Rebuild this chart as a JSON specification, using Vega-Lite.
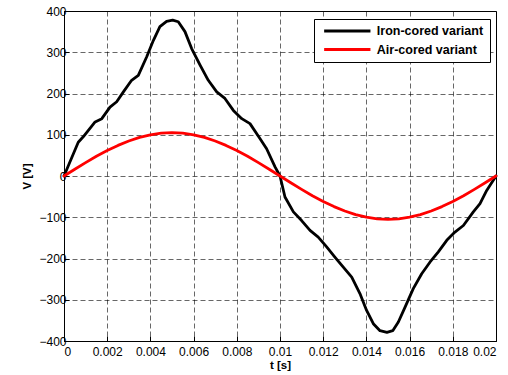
{
  "$schema": "https://vega.github.io/schema/vega-lite/v6.json",
  "width": 432,
  "height": 330,
  "autosize": {"type": "none"},
  "padding": {"left": 64, "top": 11, "right": 12, "bottom": 34},
  "background": "white",
  "config": {
    "font": "Liberation Sans",
    "view": {"stroke": "#000", "strokeWidth": 1},
    "axis": {
      "domainColor": "#000",
      "tickColor": "#000",
      "tickSize": -5,
      "labelColor": "#000",
      "labelFont": "Liberation Sans",
      "labelFontSize": 12,
      "titleFont": "Liberation Sans",
      "titleFontSize": 11.5,
      "titleFontWeight": "bold",
      "titleColor": "#000",
      "grid": true,
      "gridColor": "#000",
      "gridOpacity": 0.75,
      "gridDash": [5, 3],
      "gridWidth": 0.8
    }
  },
  "data": {
    "values": [
      {"t": 0, "v": 0, "s": "Iron-cored variant"},
      {"t": 0.00066, "v": 82, "s": "Iron-cored variant"},
      {"t": 0.00089, "v": 95, "s": "Iron-cored variant"},
      {"t": 0.00144, "v": 131, "s": "Iron-cored variant"},
      {"t": 0.00175, "v": 139, "s": "Iron-cored variant"},
      {"t": 0.00213, "v": 167, "s": "Iron-cored variant"},
      {"t": 0.00244, "v": 180, "s": "Iron-cored variant"},
      {"t": 0.00275, "v": 204, "s": "Iron-cored variant"},
      {"t": 0.00313, "v": 232, "s": "Iron-cored variant"},
      {"t": 0.00344, "v": 244, "s": "Iron-cored variant"},
      {"t": 0.00383, "v": 289, "s": "Iron-cored variant"},
      {"t": 0.00414, "v": 329, "s": "Iron-cored variant"},
      {"t": 0.00444, "v": 362, "s": "Iron-cored variant"},
      {"t": 0.00475, "v": 375, "s": "Iron-cored variant"},
      {"t": 0.00503, "v": 378, "s": "Iron-cored variant"},
      {"t": 0.00529, "v": 374, "s": "Iron-cored variant"},
      {"t": 0.0056, "v": 350, "s": "Iron-cored variant"},
      {"t": 0.00591, "v": 309, "s": "Iron-cored variant"},
      {"t": 0.0063, "v": 269, "s": "Iron-cored variant"},
      {"t": 0.00668, "v": 232, "s": "Iron-cored variant"},
      {"t": 0.00707, "v": 204, "s": "Iron-cored variant"},
      {"t": 0.00745, "v": 188, "s": "Iron-cored variant"},
      {"t": 0.00784, "v": 159, "s": "Iron-cored variant"},
      {"t": 0.00823, "v": 139, "s": "Iron-cored variant"},
      {"t": 0.00861, "v": 127, "s": "Iron-cored variant"},
      {"t": 0.00907, "v": 91, "s": "Iron-cored variant"},
      {"t": 0.00938, "v": 66, "s": "Iron-cored variant"},
      {"t": 0.00977, "v": 22, "s": "Iron-cored variant"},
      {"t": 0.01, "v": 0, "s": "Iron-cored variant"},
      {"t": 0.01023, "v": -51, "s": "Iron-cored variant"},
      {"t": 0.01062, "v": -87, "s": "Iron-cored variant"},
      {"t": 0.011, "v": -108, "s": "Iron-cored variant"},
      {"t": 0.01139, "v": -132, "s": "Iron-cored variant"},
      {"t": 0.01177, "v": -148, "s": "Iron-cored variant"},
      {"t": 0.01216, "v": -172, "s": "Iron-cored variant"},
      {"t": 0.01255, "v": -197, "s": "Iron-cored variant"},
      {"t": 0.01293, "v": -221, "s": "Iron-cored variant"},
      {"t": 0.01332, "v": -245, "s": "Iron-cored variant"},
      {"t": 0.0137, "v": -285, "s": "Iron-cored variant"},
      {"t": 0.01401, "v": -326, "s": "Iron-cored variant"},
      {"t": 0.01432, "v": -358, "s": "Iron-cored variant"},
      {"t": 0.01463, "v": -375, "s": "Iron-cored variant"},
      {"t": 0.01495, "v": -379, "s": "Iron-cored variant"},
      {"t": 0.01522, "v": -375, "s": "Iron-cored variant"},
      {"t": 0.01548, "v": -354, "s": "Iron-cored variant"},
      {"t": 0.01579, "v": -318, "s": "Iron-cored variant"},
      {"t": 0.01617, "v": -273, "s": "Iron-cored variant"},
      {"t": 0.01656, "v": -237, "s": "Iron-cored variant"},
      {"t": 0.01694, "v": -209, "s": "Iron-cored variant"},
      {"t": 0.01733, "v": -184, "s": "Iron-cored variant"},
      {"t": 0.01772, "v": -156, "s": "Iron-cored variant"},
      {"t": 0.0181, "v": -136, "s": "Iron-cored variant"},
      {"t": 0.01849, "v": -120, "s": "Iron-cored variant"},
      {"t": 0.01895, "v": -87, "s": "Iron-cored variant"},
      {"t": 0.01926, "v": -67, "s": "Iron-cored variant"},
      {"t": 0.01957, "v": -35, "s": "Iron-cored variant"},
      {"t": 0.02, "v": 0, "s": "Iron-cored variant"},
      {"t": 0, "v": 0, "s": "Air-cored variant"},
      {"t": 0.0005, "v": 16.4, "s": "Air-cored variant"},
      {"t": 0.001, "v": 32.4, "s": "Air-cored variant"},
      {"t": 0.0015, "v": 47.7, "s": "Air-cored variant"},
      {"t": 0.002, "v": 61.7, "s": "Air-cored variant"},
      {"t": 0.0025, "v": 74.2, "s": "Air-cored variant"},
      {"t": 0.003, "v": 84.9, "s": "Air-cored variant"},
      {"t": 0.0035, "v": 93.6, "s": "Air-cored variant"},
      {"t": 0.004, "v": 99.9, "s": "Air-cored variant"},
      {"t": 0.0045, "v": 103.7, "s": "Air-cored variant"},
      {"t": 0.005, "v": 105, "s": "Air-cored variant"},
      {"t": 0.0055, "v": 103.7, "s": "Air-cored variant"},
      {"t": 0.006, "v": 99.9, "s": "Air-cored variant"},
      {"t": 0.0065, "v": 93.6, "s": "Air-cored variant"},
      {"t": 0.007, "v": 84.9, "s": "Air-cored variant"},
      {"t": 0.0075, "v": 74.2, "s": "Air-cored variant"},
      {"t": 0.008, "v": 61.7, "s": "Air-cored variant"},
      {"t": 0.0085, "v": 47.7, "s": "Air-cored variant"},
      {"t": 0.009, "v": 32.4, "s": "Air-cored variant"},
      {"t": 0.0095, "v": 16.4, "s": "Air-cored variant"},
      {"t": 0.01, "v": 0, "s": "Air-cored variant"},
      {"t": 0.0105, "v": -16.4, "s": "Air-cored variant"},
      {"t": 0.011, "v": -32.4, "s": "Air-cored variant"},
      {"t": 0.0115, "v": -47.7, "s": "Air-cored variant"},
      {"t": 0.012, "v": -61.7, "s": "Air-cored variant"},
      {"t": 0.0125, "v": -74.2, "s": "Air-cored variant"},
      {"t": 0.013, "v": -84.9, "s": "Air-cored variant"},
      {"t": 0.0135, "v": -93.6, "s": "Air-cored variant"},
      {"t": 0.014, "v": -99.9, "s": "Air-cored variant"},
      {"t": 0.0145, "v": -103.7, "s": "Air-cored variant"},
      {"t": 0.015, "v": -105, "s": "Air-cored variant"},
      {"t": 0.0155, "v": -103.7, "s": "Air-cored variant"},
      {"t": 0.016, "v": -99.9, "s": "Air-cored variant"},
      {"t": 0.0165, "v": -93.6, "s": "Air-cored variant"},
      {"t": 0.017, "v": -84.9, "s": "Air-cored variant"},
      {"t": 0.0175, "v": -74.2, "s": "Air-cored variant"},
      {"t": 0.018, "v": -61.7, "s": "Air-cored variant"},
      {"t": 0.0185, "v": -47.7, "s": "Air-cored variant"},
      {"t": 0.019, "v": -32.4, "s": "Air-cored variant"},
      {"t": 0.0195, "v": -16.4, "s": "Air-cored variant"},
      {"t": 0.02, "v": 0, "s": "Air-cored variant"}
    ]
  },
  "mark": {"type": "line", "strokeWidth": 2.8, "strokeJoin": "round", "strokeCap": "round"},
  "encoding": {
    "x": {
      "field": "t",
      "type": "quantitative",
      "scale": {"domain": [0, 0.02], "nice": false, "zero": false},
      "axis": {
        "title": "t [s]",
        "values": [0, 0.002, 0.004, 0.006, 0.008, 0.01, 0.012, 0.014, 0.016, 0.018, 0.02],
        "format": "~g",
        "labelPadding": 10.5,
        "titlePadding": 1.5
      }
    },
    "y": {
      "field": "v",
      "type": "quantitative",
      "scale": {"domain": [-400, 400], "nice": false},
      "axis": {
        "title": "V [V]",
        "values": [-400, -300, -200, -100, 0, 100, 200, 300, 400],
        "labelPadding": 3,
        "titlePadding": 6
      }
    },
    "color": {
      "field": "s",
      "type": "nominal",
      "sort": ["Iron-cored variant", "Air-cored variant"],
      "scale": {"domain": ["Iron-cored variant", "Air-cored variant"], "range": ["#000000", "#ff0000"]},
      "legend": {
        "title": null,
        "orient": "none",
        "legendX": 250,
        "legendY": 8,
        "fillColor": "white",
        "strokeColor": "#000",
        "padding": 6,
        "symbolType": "stroke",
        "symbolSize": 2144,
        "symbolStrokeWidth": 2.8,
        "symbolOffset": 2.3,
        "clipHeight": 12,
        "labelOffset": 4.5,
        "labelFont": "Liberation Sans",
        "labelFontSize": 12.5,
        "labelFontWeight": "bold",
        "labelColor": "#000",
        "rowPadding": 5.5
      }
    },
    "order": {"field": "t", "type": "quantitative"}
  }
}
